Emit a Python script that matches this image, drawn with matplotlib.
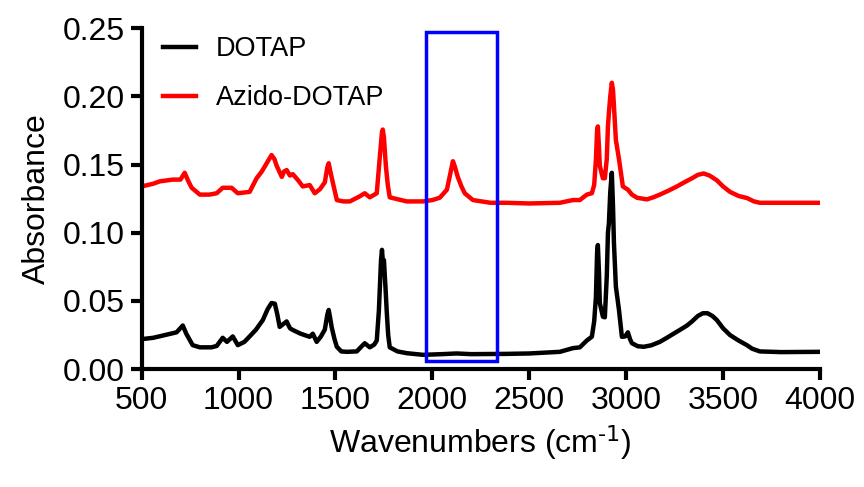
import matplotlib
matplotlib.use("Agg")
import matplotlib.pyplot as plt
from matplotlib.patches import Rectangle

plt.rcParams['font.family'] = ['Liberation Sans', 'DejaVu Sans']
plt.rcParams['mathtext.default'] = 'regular'

# DOTAP spectrum (wavenumber, absorbance)
dotap_x = [500, 560, 620, 680, 712, 730, 763, 800, 860, 887, 918, 940, 970, 996, 1030, 1057,
           1090, 1125, 1150, 1170, 1187, 1200, 1212, 1230, 1248, 1265, 1280, 1320, 1367, 1383,
           1403, 1425, 1445, 1458, 1465, 1472, 1480, 1495, 1507, 1530, 1558, 1610, 1630, 1651,
           1677, 1700, 1713, 1724, 1735, 1740, 1745, 1750, 1758, 1765, 1772, 1780, 1820, 1868,
           1952, 2050, 2125, 2200, 2384, 2500, 2658, 2725, 2761, 2797, 2823, 2835, 2844, 2850,
           2854, 2860, 2864, 2880, 2890, 2900, 2906, 2911, 2918, 2926, 2932, 2937, 2947, 2963,
           2978, 2995, 3009, 3020, 3030, 3060, 3091, 3130, 3174, 3210, 3245, 3280, 3314, 3340,
           3370, 3396, 3420, 3445, 3468, 3500, 3536, 3580, 3623, 3650, 3690, 3800, 4000]
dotap_y = [0.022, 0.023, 0.025, 0.027, 0.032, 0.026, 0.0176, 0.016, 0.016, 0.017, 0.023, 0.020,
           0.024, 0.0176, 0.020, 0.024, 0.029, 0.036, 0.044, 0.0485, 0.048, 0.040, 0.031, 0.033,
           0.035, 0.030, 0.0287, 0.026, 0.0237, 0.026, 0.020, 0.024, 0.029, 0.040, 0.0434, 0.038,
           0.031, 0.022, 0.0164, 0.013, 0.0127, 0.013, 0.016, 0.019, 0.016, 0.018, 0.021, 0.043,
           0.080, 0.0875, 0.078, 0.080, 0.060, 0.041, 0.025, 0.016, 0.013, 0.0117, 0.0105, 0.011,
           0.0115, 0.011, 0.0112, 0.0115, 0.0127, 0.0154, 0.016, 0.021, 0.0238, 0.035, 0.053,
           0.085, 0.091, 0.070, 0.0485, 0.0385, 0.038, 0.068, 0.100, 0.107, 0.130, 0.144, 0.120,
           0.0925, 0.0605, 0.0434, 0.0237, 0.024, 0.027, 0.022, 0.019, 0.0168, 0.0164, 0.0175,
           0.020, 0.023, 0.026, 0.029, 0.032, 0.035, 0.039, 0.041, 0.041, 0.039, 0.036, 0.030,
           0.025, 0.021, 0.0176, 0.015, 0.013, 0.0125, 0.0127]

# Azido-DOTAP spectrum (wavenumber, absorbance)
azido_x = [500, 560, 593, 660, 700, 722, 740, 758, 800, 850, 887, 918, 964, 996, 1057, 1093,
           1120, 1145, 1170, 1185, 1197, 1223, 1235, 1248, 1265, 1280, 1310, 1331, 1367, 1393,
           1420, 1445, 1458, 1465, 1472, 1486, 1507, 1540, 1574, 1625, 1651, 1677, 1713, 1729,
           1740, 1744, 1750, 1760, 1770, 1780, 1868, 1952, 2000, 2038, 2075, 2095, 2106, 2115,
           2131, 2150, 2167, 2209, 2300, 2384, 2500, 2658, 2725, 2761, 2797, 2823, 2835, 2844,
           2850, 2854, 2860, 2864, 2880, 2890, 2900, 2906, 2911, 2918, 2926, 2932, 2937, 2947,
           2963, 2983, 3009, 3030, 3056, 3107, 3140, 3174, 3220, 3262, 3300, 3340, 3370, 3400,
           3430, 3468, 3500, 3536, 3580, 3623, 3660, 3690, 3861, 4000]
azido_y = [0.134, 0.136, 0.1377, 0.139, 0.139, 0.144, 0.138, 0.133, 0.128, 0.128, 0.129, 0.133,
           0.133, 0.129, 0.130, 0.140, 0.145, 0.151, 0.157, 0.154, 0.149, 0.141, 0.145, 0.146,
           0.142, 0.143, 0.138, 0.134, 0.135, 0.129, 0.132, 0.137, 0.148, 0.151, 0.146, 0.137,
           0.124, 0.123, 0.123, 0.1267, 0.129, 0.126, 0.129, 0.156, 0.174, 0.1757, 0.170, 0.149,
           0.135, 0.126, 0.123, 0.123, 0.124, 0.1257, 0.1316, 0.145, 0.1525, 0.149, 0.141, 0.134,
           0.129, 0.124, 0.122, 0.122, 0.1215, 0.122, 0.124, 0.124, 0.128, 0.129, 0.135, 0.1537,
           0.175, 0.178, 0.162, 0.149, 0.140, 0.140, 0.154, 0.178, 0.188, 0.200, 0.210, 0.205,
           0.193, 0.168, 0.154, 0.134, 0.1316, 0.128, 0.1257, 0.1245, 0.126, 0.128, 0.131, 0.134,
           0.137, 0.140, 0.1425, 0.1435, 0.142, 0.1385, 0.134, 0.130, 0.127, 0.1255, 0.123,
           0.122, 0.122, 0.122]

# Highlighted region (azide band)
box_x = [1966, 2333]
box_y = [0.006, 0.247]

x_ticks = [500, 1000, 1500, 2000, 2500, 3000, 3500, 4000]
y_ticks = [0.00, 0.05, 0.10, 0.15, 0.20, 0.25]

fig = plt.figure(figsize=(8.64, 4.87), dpi=100)
ax = fig.add_axes([0.164, 0.242, 0.785, 0.700])

ax.plot(dotap_x, dotap_y, color='black', lw=3.2, label='DOTAP')
ax.plot(azido_x, azido_y, color='#ff0000', lw=3.2, label='Azido-DOTAP')

ax.add_patch(Rectangle((box_x[0], box_y[0]), box_x[1] - box_x[0], box_y[1] - box_y[0],
                       fill=False, edgecolor='#0000ff', lw=2.5, clip_on=False, zorder=5))

ax.set_xlim(500, 4000)
ax.set_ylim(0, 0.25)
ax.set_xticks(x_ticks)
ax.set_yticks(y_ticks)
ax.set_yticklabels([f"{v:.2f}" for v in y_ticks])

for s in ['top', 'right']:
    ax.spines[s].set_visible(False)
for s in ['left', 'bottom']:
    ax.spines[s].set_linewidth(3)
ax.tick_params(axis='both', which='major', length=8, width=3, labelsize=23, direction='out', pad=4)

ax.set_xlabel('Wavenumbers (cm$^{\\text{-1}}$)', fontsize=23, labelpad=5)
ax.set_ylabel('Absorbance', fontsize=23, labelpad=8)

leg = ax.legend(loc='upper left', frameon=False, fontsize=19.5, handlelength=1.2,
                handletextpad=0.75, labelspacing=0.85, bbox_to_anchor=(0.0, 1.04),
                borderaxespad=0.4)

fig.savefig('out.png', dpi=100)
